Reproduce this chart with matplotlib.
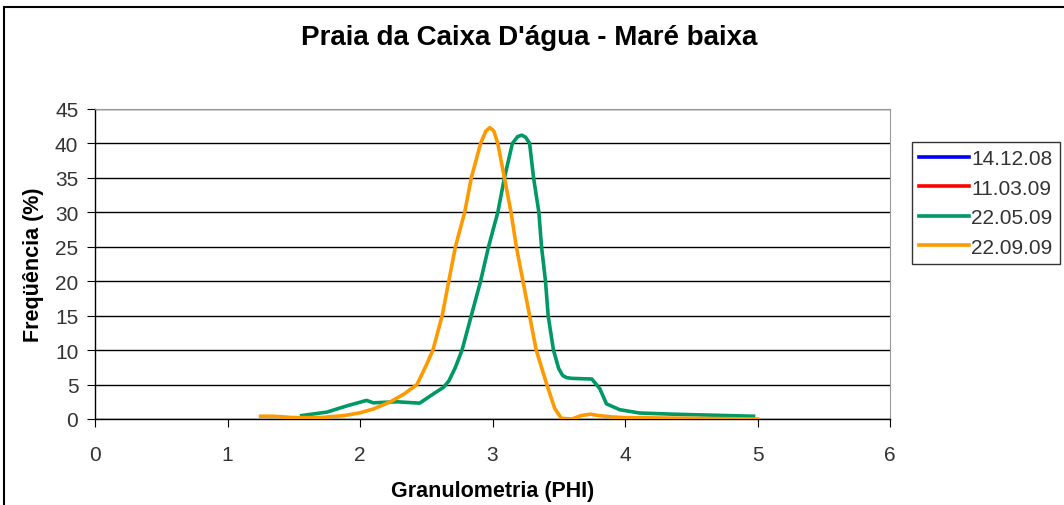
import matplotlib
matplotlib.use("Agg")
import matplotlib.pyplot as plt
from matplotlib.patches import Rectangle

plt.rcParams["font.family"] = ["Liberation Sans", "DejaVu Sans"]

# 22.05.09 (green)
phi_maio = [1.56, 1.75, 1.9, 2.05, 2.1, 2.28, 2.45, 2.55, 2.63, 2.67, 2.72, 2.77, 2.84,
            2.91, 2.97, 3.04, 3.09, 3.15, 3.19, 3.22, 3.25, 3.28, 3.31, 3.35, 3.37,
            3.40, 3.42, 3.46, 3.5, 3.53, 3.56, 3.6, 3.75, 3.81, 3.86, 3.96, 4.11,
            4.36, 4.97]
freq_maio = [0.5, 1.0, 1.9, 2.7, 2.35, 2.5, 2.3, 3.6, 4.6, 5.5, 7.5, 10.0, 15.0,
             20.0, 25.0, 30.0, 35.0, 40.0, 41.0, 41.2, 40.9, 40.0, 35.0, 30.0, 25.0,
             20.0, 15.0, 10.0, 7.3, 6.3, 6.0, 5.9, 5.8, 4.4, 2.2, 1.35, 0.87,
             0.7, 0.4]

# 22.09.09 (orange)
phi_set = [1.25, 1.35, 1.5, 1.7, 1.88, 2.0, 2.1, 2.23, 2.33, 2.43, 2.5, 2.55, 2.62,
           2.67, 2.72, 2.79, 2.84, 2.91, 2.95, 2.98, 3.01, 3.04, 3.09, 3.14, 3.18,
           3.23, 3.28, 3.33, 3.41, 3.47, 3.52, 3.6, 3.67, 3.74, 3.8, 3.9, 4.0,
           4.5, 5.0]
freq_set = [0.4, 0.4, 0.2, 0.2, 0.5, 0.9, 1.45, 2.5, 3.6, 5.0, 7.8, 10.0, 15.0,
            20.0, 25.0, 30.0, 35.0, 40.0, 41.8, 42.3, 41.8, 40.0, 35.0, 30.0, 25.0,
            20.0, 15.0, 10.0, 5.0, 1.5, 0.1, 0.0, 0.5, 0.7, 0.5, 0.3, 0.2,
            0.1, 0.0]

# series without visible data
phi_dez, freq_dez = [], []
phi_mar, freq_mar = [], []

legend_labels = ["14.12.08", "11.03.09", "22.05.09", "22.09.09"]
colors = ["#0000FF", "#FF0000", "#009966", "#FF9900"]

fig = plt.figure(figsize=(10.64, 5.06), dpi=100)
ax = fig.add_axes([95 / 1064, 1 - 420 / 506, 795 / 1064, 310 / 506])

series = [(phi_dez, freq_dez), (phi_mar, freq_mar), (phi_maio, freq_maio), (phi_set, freq_set)]
for (x, y), lab, c in zip(series, legend_labels, colors):
    ax.plot(x, y, color=c, lw=2.6, label=lab, solid_joinstyle="round", zorder=3)

ax.set_xlim(0, 6)
ax.set_ylim(0, 45)
ax.set_xticks(range(0, 7))
ax.set_yticks(range(0, 50, 5))
ax.yaxis.grid(True, color="black", lw=1.0)
ax.set_axisbelow(True)

for s in ["top", "right"]:
    ax.spines[s].set_color("#999999")
for s in ["left", "bottom"]:
    ax.spines[s].set_color("black")
    ax.spines[s].set_linewidth(1.0)

ax.tick_params(axis="x", direction="out", length=6, pad=13, labelsize=15, colors="black")
ax.tick_params(axis="y", direction="out", length=6, pad=6, labelsize=15, colors="black")
for lbl in ax.get_xticklabels() + ax.get_yticklabels():
    lbl.set_color("#333333")

ax.set_xlabel("Granulometria (PHI)", fontsize=15.5, fontweight="bold", labelpad=11)
ax.set_ylabel("Freqüência (%)", fontsize=15.5, fontweight="bold", labelpad=8)

fig.text(0.497, 1 - 38 / 506, "Praia da Caixa D'água - Maré baixa", ha="center",
         va="center", fontsize=20, fontweight="bold")

leg = ax.legend(loc="upper left", bbox_to_anchor=(912 / 1064, 1 - 143 / 506),
                bbox_transform=fig.transFigure, frameon=True, fancybox=False,
                fontsize=15, handlelength=2.4, handletextpad=0.1, borderpad=0.35,
                labelspacing=0.5, borderaxespad=0)
leg.get_frame().set_edgecolor("black")
leg.get_frame().set_linewidth(1.0)
for t in leg.get_texts():
    t.set_color("#333333")

# chart area border
fig.patches.append(Rectangle((4 / 1064, -0.05), 1.05, 1 - 8 / 506 + 0.05,
                             transform=fig.transFigure, fill=False,
                             edgecolor="black", lw=1.5))

fig.savefig("out.png", dpi=100)
